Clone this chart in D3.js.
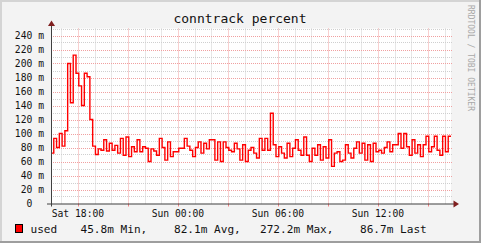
<!DOCTYPE html>
<html>
<head>
<meta charset="utf-8">
<script src="https://cdn.jsdelivr.net/npm/d3@7"></script>
<style>
  body { margin: 0; background: #f3f3f3; }
  text { font-family: "DejaVu Sans Mono", monospace; }
</style>
</head>
<body>
<svg id="chart"></svg>
<script>
// Define the dimensions and plot box
const width = 481, height = 243;
const plot = {left: 51, right: 451, top: 28.5, bottom: 203.5};

// conntrack percent, one value every 10 minutes (milli units)
const used = [72, 93, 80, 100, 82, 104, 200, 144, 212, 186, 168, 140, 186, 181, 120, 82,
  70, 78, 76, 91, 75, 86, 76, 83, 72, 93, 69, 95, 67, 81, 74, 91,
  74, 81, 79, 60, 78, 75, 69, 93, 80, 62, 88, 67, 74, 74, 79, 79,
  93, 82, 76, 67, 80, 88, 72, 86, 78, 91, 91, 62, 88, 60, 88, 80,
  76, 74, 86, 78, 62, 84, 60, 76, 80, 72, 65, 93, 76, 93, 76, 129,
  84, 67, 81, 72, 65, 86, 67, 79, 91, 76, 69, 95, 69, 60, 79, 69,
  84, 62, 81, 65, 91, 53, 72, 74, 60, 62, 84, 72, 65, 79, 88, 72,
  86, 62, 84, 60, 86, 74, 76, 72, 80, 88, 74, 84, 84, 100, 79, 100,
  81, 69, 91, 72, 84, 67, 84, 96, 74, 81, 96, 76, 69, 96, 74, 96];
const yTicks = [0, 20, 40, 60, 80, 100, 120, 140, 160, 180, 200, 220, 240];
const statNames = ["Min,", "Avg,", "Max,", "Last"];
const statValues = ["45.8m", "82.1m", "272.2m", "86.7m"];

const start = new Date(2023, 0, 7, 16, 23);
const end = d3.timeHour.offset(start, 24);
const data = used.map((v, i) => ({t: d3.timeMinute.offset(start, i * 10), v: v}));
data.push({t: end, v: used[used.length - 1]});

const svg = d3.select("#chart")
    .attr("width", width)
    .attr("height", height);

// background with 3d shading
svg.append("rect").attr("width", width).attr("height", height).attr("fill", "#f3f3f3");
svg.append("rect").attr("x", 0).attr("y", 0).attr("width", width).attr("height", 2).attr("fill", "#d4d4d4");
svg.append("rect").attr("x", 0).attr("y", 0).attr("width", 2).attr("height", height).attr("fill", "#d4d4d4");
svg.append("rect").attr("x", width - 2).attr("y", 0).attr("width", 2).attr("height", height).attr("fill", "#9e9e9e");
svg.append("rect").attr("x", 0).attr("y", height - 2).attr("width", width).attr("height", 2).attr("fill", "#9e9e9e");

svg.append("rect")
    .attr("x", plot.left).attr("y", plot.top)
    .attr("width", plot.right - plot.left).attr("height", plot.bottom - plot.top)
    .attr("fill", "#ffffff");

const xScale = d3.scaleTime().domain([start, end]).range([plot.left, plot.right]);
const yScale = d3.scaleLinear().domain([0, 250]).range([plot.bottom, plot.top]);

// grid lines
const grid = svg.append("g").attr("stroke-dasharray", "1,1").attr("stroke-width", 1);
const minorY = d3.range(10, 260, 20);
grid.selectAll(".hy").data(minorY).join("line")
    .attr("x1", plot.left).attr("x2", plot.right + 1)
    .attr("y1", d => Math.round(yScale(d)) + 0.5).attr("y2", d => Math.round(yScale(d)) + 0.5)
    .attr("stroke", "#cfcfcf");
const hours = d3.timeHour.range(start, end).filter(d => d.getHours() % 3 != 0);
grid.selectAll(".vx").data(hours).join("line")
    .attr("x1", d => Math.round(xScale(d)) + 0.5).attr("x2", d => Math.round(xScale(d)) + 0.5)
    .attr("y1", plot.top).attr("y2", plot.bottom)
    .attr("stroke", "#cfcfcf");
grid.selectAll(".my").data(yTicks.slice(1)).join("line")
    .attr("x1", plot.left).attr("x2", plot.right + 1)
    .attr("y1", d => Math.round(yScale(d)) + 0.5).attr("y2", d => Math.round(yScale(d)) + 0.5)
    .attr("stroke", "#f0a0a0");
const majors = d3.timeHour.every(3).range(start, end);
grid.selectAll(".mx").data(majors).join("line")
    .attr("x1", d => Math.round(xScale(d)) + 0.5).attr("x2", d => Math.round(xScale(d)) + 0.5)
    .attr("y1", plot.top).attr("y2", plot.bottom)
    .attr("stroke", "#f0a0a0");

// ticks under the x axis
svg.selectAll(".tick-x").data(majors).join("line")
    .attr("x1", d => Math.round(xScale(d)) + 0.5).attr("x2", d => Math.round(xScale(d)) + 0.5)
    .attr("y1", plot.bottom).attr("y2", plot.bottom + 3)
    .attr("stroke", "#f08080");

// y labels
svg.selectAll(".ylab").data(yTicks).join("text")
    .attr("x", 44)
    .attr("y", d => yScale(d) + 3.5)
    .attr("text-anchor", "end")
    .attr("font-size", "9.7px")
    .attr("fill", "#111")
    .style("white-space", "pre")
    .text(d => d == 0 ? "0  " : d + " m");

// x labels
const labels = d3.timeHour.every(6).range(start, end);
svg.selectAll(".xlab").data(labels).join("text")
    .attr("x", d => xScale(d))
    .attr("y", 216.5)
    .attr("text-anchor", "middle")
    .attr("font-size", "9.7px")
    .attr("fill", "#111")
    .text(d => d3.timeFormat("%a %H:%M")(d));

// data line
const line = d3.line()
    .x(d => xScale(d.t))
    .y(d => yScale(d.v))
    .curve(d3.curveStepAfter);
svg.append("path")
    .datum(data)
    .attr("fill", "none")
    .attr("stroke", "#ff0000")
    .attr("stroke-width", 1.4)
    .attr("d", line);

// axes with arrows
svg.append("line")
    .attr("x1", plot.left - 4).attr("x2", plot.right + 3)
    .attr("y1", plot.bottom + 0.5).attr("y2", plot.bottom + 0.5)
    .attr("stroke", "#404040");
svg.append("line")
    .attr("x1", plot.left + 0.5).attr("x2", plot.left + 0.5)
    .attr("y1", plot.bottom + 3).attr("y2", 24)
    .attr("stroke", "#404040");
svg.append("path")
    .attr("d", `M${plot.left + 0.5},20.5 L${plot.left + 4},26 L${plot.left - 3},26 Z`)
    .attr("fill", "#7f1f1f");
svg.append("path")
    .attr("d", `M${plot.right + 8},${plot.bottom + 0.5} L${plot.right + 2.5},${plot.bottom - 3} L${plot.right + 2.5},${plot.bottom + 4} Z`)
    .attr("fill", "#7f1f1f");

// title
svg.append("text")
    .attr("x", 240)
    .attr("y", 23)
    .attr("text-anchor", "middle")
    .attr("font-size", "13px")
    .attr("fill", "#111")
    .text("conntrack percent");

// watermark
svg.append("text")
    .attr("transform", "translate(468,5) rotate(90)")
    .attr("font-size", "8px")
    .attr("fill", "#a8a8a8")
    .text("RRDTOOL / TOBI OETIKER");

// legend
const legend = svg.append("g");
legend.append("rect")
    .attr("x", 15.5).attr("y", 224.5)
    .attr("width", 7).attr("height", 8)
    .attr("fill", "#ff0000")
    .attr("stroke", "#000");
legend.append("text")
    .attr("x", 30.5).attr("y", 233)
    .attr("font-size", "11.1px")
    .attr("fill", "#111")
    .text("used");
const statX = [80.5, 174, 260, 360];
statNames.forEach((n, i) => {
  legend.append("text")
      .attr("x", statX[i]).attr("y", 233)
      .attr("font-size", "11.1px")
      .attr("fill", "#111")
      .text(statValues[i] + " " + n);
});
</script>
</body>
</html>
